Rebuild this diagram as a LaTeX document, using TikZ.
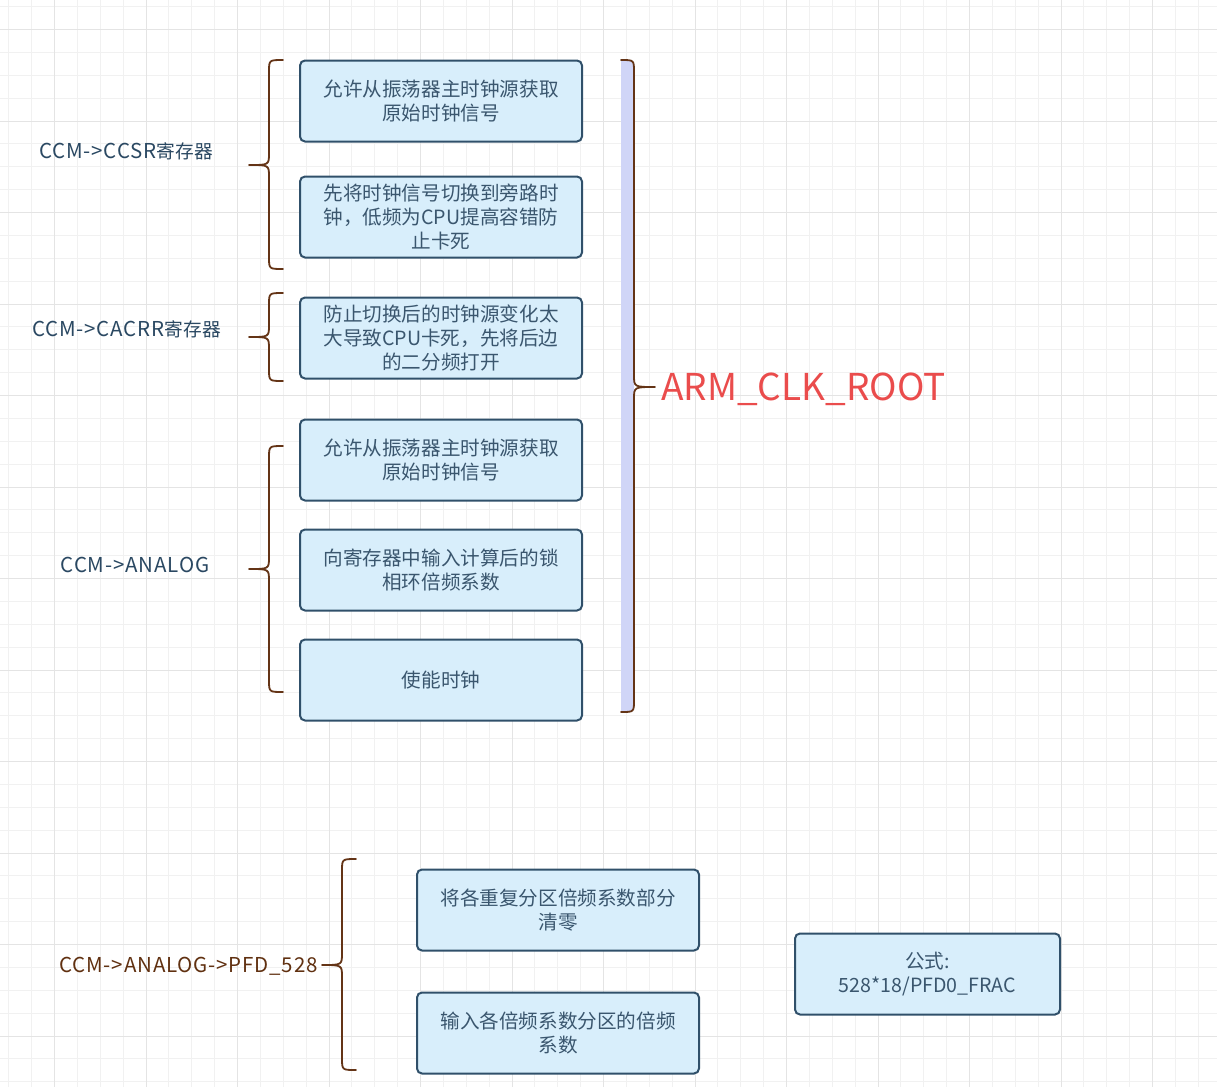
\documentclass[tikz,border=0pt]{standalone}
\usepackage{fontspec}
\setmainfont{Noto Sans CJK SC}
\newfontfamily\latlab[LetterSpace=4]{Noto Sans CJK SC}
\newcommand{\labtxt}[1]{{\latlab\fontsize{20.5}{24}\selectfont #1}}
\definecolor{gridminor}{RGB}{241,241,241}
\definecolor{gridmajor}{RGB}{228,228,228}
\definecolor{boxfill}{RGB}{216,238,251}
\definecolor{boxline}{RGB}{48,80,106}
\definecolor{boxtext}{RGB}{58,86,110}
\definecolor{labeltext}{RGB}{42,72,98}
\definecolor{bracecol}{RGB}{100,52,22}
\definecolor{browntext}{RGB}{96,48,16}
\definecolor{redtext}{RGB}{234,76,76}
\definecolor{lavender}{RGB}{208,213,247}
\begin{document}
\begin{tikzpicture}[x=1pt,y=-1pt,
  stepbox/.style={draw=boxline, fill=boxfill, line width=2pt, rounded corners=5pt,
    minimum width=282pt, minimum height=81pt, inner sep=0pt, align=center,
    text=boxtext, font={\fontsize{19.6}{24}\selectfont}},
  reglabel/.style={inner sep=0pt, text=labeltext, font={\fontsize{18.7}{24}\selectfont}},
  curlyline/.style={draw=bracecol, line width=1.8pt, line cap=round, line join=round}]
\useasboundingbox (0,0) rectangle (1217,1087);
\fill[white] (0,0) rectangle (1217,1087);
% grid
\foreach \i in {0,...,52} { \draw[gridminor, line width=1pt] ({8.75+22.875*\i},0) -- ({8.75+22.875*\i},1087); }
\foreach \i in {0,...,47} { \draw[gridminor, line width=1pt] (0,{6.625+22.875*\i}) -- (1217,{6.625+22.875*\i}); }
\foreach \i in {0,...,12} { \draw[gridmajor, line width=1pt] ({54.5+91.5*\i},0) -- ({54.5+91.5*\i},1087); }
\foreach \i in {0,...,11} { \draw[gridmajor, line width=1pt] (0,{29.5+91.5*\i}) -- (1217,{29.5+91.5*\i}); }

% boxes
\node[stepbox] (b1) at (441,101) {允许从振荡器主时钟源获取\\原始时钟信号};
\node[stepbox] (b2) at (441,217) {先将时钟信号切换到旁路时\\钟，低频为CPU提高容错防\\止卡死};
\node[stepbox] (b3) at (441,338) {防止切换后的时钟源变化太\\大导致CPU卡死，先将后边\\的二分频打开};
\node[stepbox] (b4) at (441,460) {允许从振荡器主时钟源获取\\原始时钟信号};
\node[stepbox] (b5) at (441,570) {向寄存器中输入计算后的锁\\相环倍频系数};
\node[stepbox] (b6) at (441,680) {使能时钟};
\node[stepbox] (b7) at (558,910) {将各重复分区倍频系数部分\\清零};
\node[stepbox] (b8) at (558,1033) {输入各倍频系数分区的倍频\\系数};
\node[stepbox, minimum width=265pt] (b9) at (927.5,974) {公式:\\528*18/PFD0\_FRAC};

% labels
\node[reglabel] (l1) at (126,151) {\labtxt{CCM->CCSR}寄存器};
\node[reglabel] (l2) at (126.5,329) {\labtxt{CCM->CACRR}寄存器};
\node[reglabel] (l3) at (135,565) {\labtxt{CCM->ANALOG}};
\node[reglabel, text=browntext] (l4) at (188.5,966) {\labtxt{CCM->ANALOG->PFD\_528}};
\node[inner sep=0pt, anchor=west, text=redtext, font={\fontsize{37}{44}\selectfont}] (root) at (661,389) {ARM\_CLK\_ROOT};

% left braces
\draw[curlyline] (283,60) .. controls (269,60) .. (269,72) -- (269,153) .. controls (269,165) .. (249,165)
  .. controls (269,165) .. (269,177) -- (269,257) .. controls (269,269) .. (283,269);
\draw[curlyline] (283,293) .. controls (269,293) .. (269,305) -- (269,325) .. controls (269,337) .. (249,337)
  .. controls (269,337) .. (269,349) -- (269,369) .. controls (269,381) .. (283,381);
\draw[curlyline] (283,446) .. controls (269,446) .. (269,458) -- (269,557) .. controls (269,569) .. (249,569)
  .. controls (269,569) .. (269,581) -- (269,680) .. controls (269,692) .. (283,692);
\draw[curlyline] (356,859) .. controls (342,859) .. (342,871) -- (342,953) .. controls (342,965) .. (322,965)
  .. controls (342,965) .. (342,977) -- (342,1058) .. controls (342,1070) .. (356,1070);

% big right brace
\fill[lavender] (621,60) .. controls (634,60) .. (634,72) -- (634,700) .. controls (634,712) .. (621,712) -- cycle;
\draw[curlyline] (621,60) .. controls (634,60) .. (634,72) -- (634,375) .. controls (634,387) .. (655,387)
  .. controls (634,387) .. (634,399) -- (634,700) .. controls (634,712) .. (621,712);
\end{tikzpicture}
\end{document}
